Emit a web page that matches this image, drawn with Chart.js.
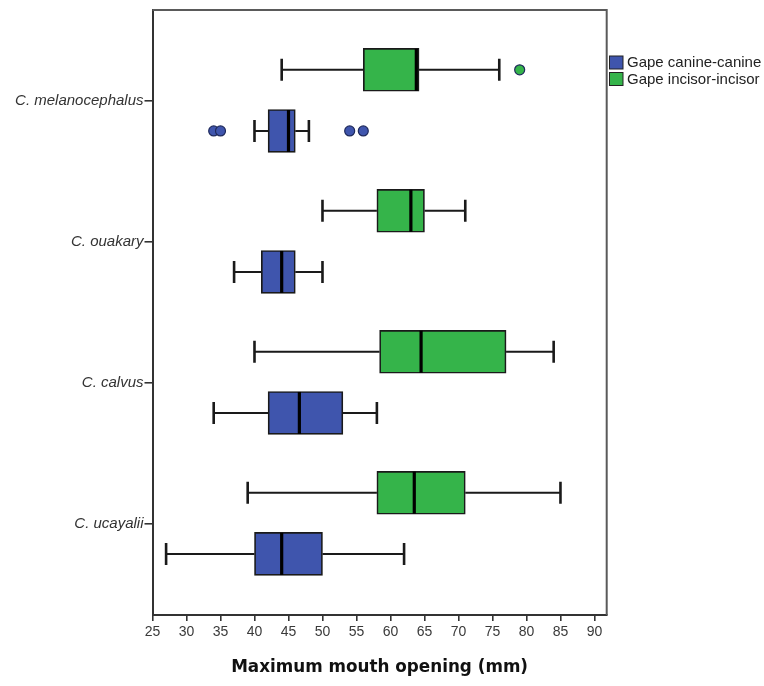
<!DOCTYPE html>
<html>
<head>
<meta charset="utf-8">
<script src="https://cdn.jsdelivr.net/npm/chart.js@4"></script>
<style>
  html, body { margin: 0; padding: 0; background: #ffffff; }
  canvas { display: block; }
</style>
</head>
<body>
<canvas id="chart" width="764" height="686"></canvas>
<script>
// Species (one row per category on the vertical axis)
const species = ['C. melanocephalus', 'C. ouakary', 'C. calvus', 'C. ucayalii'];
const seriesNames = ['Gape canine-canine', 'Gape incisor-incisor'];
const xTickValues = [25, 30, 35, 40, 45, 50, 55, 60, 65, 70, 75, 80, 85, 90];

// Gape canine-canine (mm): whisker low, Q1, median, Q3, whisker high, outliers
const canineMin    = [40, 37, 34, 27];
const canineQ1     = [42, 41, 42, 40];
const canineMedian = [45, 44, 46.6, 44];
const canineQ3     = [46, 46, 53, 50];
const canineMax    = [48, 50, 58, 62];
const canineOutliers = [[34, 35, 54, 56], [], [], []];

// Gape incisor-incisor (mm)
const incisorMin    = [44, 50, 40, 39];
const incisorQ1     = [56, 58, 58.4, 58];
const incisorMedian = [63.8, 63, 64.5, 63.5];
const incisorQ3     = [64.2, 65, 77, 71];
const incisorMax    = [76, 71, 84, 85];
const incisorOutliers = [[79], [], [], []];

const BLUE = '#3f55ad';
const GREEN = '#35b44a';
const EDGE = '#1a1a1a';
const ROW_SHIFT = 0.217;   // incisor box above the category, canine box below
const BOX_PX = 43;

const series = [
  { name: seriesNames[0], color: BLUE, shift: ROW_SHIFT,
    min: canineMin, q1: canineQ1, med: canineMedian, q3: canineQ3, max: canineMax, out: canineOutliers },
  { name: seriesNames[1], color: GREEN, shift: -ROW_SHIFT,
    min: incisorMin, q1: incisorQ1, med: incisorMedian, q3: incisorQ3, max: incisorMax, out: incisorOutliers }
];

const boxDatasets = series.map(s => ({
  type: 'bar',
  label: s.name,
  indexAxis: 'y',
  grouped: false,
  barThickness: BOX_PX,
  backgroundColor: s.color,
  borderColor: EDGE,
  borderWidth: 1.7,
  borderSkipped: false,
  data: species.map((_, i) => ({ x: [s.q1[i], s.q3[i]], y: i + s.shift }))
}));

const outlierDatasets = series.map(s => ({
  type: 'scatter',
  label: s.name + ' outliers',
  pointStyle: 'circle',
  pointRadius: 5,
  pointBackgroundColor: s.color,
  pointBorderColor: '#1f2a5c',
  pointBorderWidth: 1.2,
  data: s.out.flatMap((vals, i) => vals.map(v => ({ x: v, y: i + s.shift })))
}));

// Whiskers, caps and medians, drawn through the chart's scales
const boxplotParts = {
  id: 'boxplotParts',
  afterDatasetsDraw(chart) {
    const { ctx, scales: { x, y } } = chart;
    ctx.save();
    series.forEach(s => {
      species.forEach((_, i) => {
        const cy = y.getPixelForValue(i + s.shift);
        const xmin = x.getPixelForValue(s.min[i]);
        const xq1 = x.getPixelForValue(s.q1[i]);
        const xq3 = x.getPixelForValue(s.q3[i]);
        const xmax = x.getPixelForValue(s.max[i]);
        const xmed = x.getPixelForValue(s.med[i]);
        ctx.strokeStyle = EDGE;
        ctx.lineWidth = 2;
        ctx.beginPath();
        ctx.moveTo(xmin, cy); ctx.lineTo(xq1, cy);
        ctx.moveTo(xq3, cy); ctx.lineTo(xmax, cy);
        ctx.stroke();
        ctx.lineWidth = 2.6;
        const cap = 11;
        ctx.beginPath();
        ctx.moveTo(xmin, cy - cap); ctx.lineTo(xmin, cy + cap);
        ctx.moveTo(xmax, cy - cap); ctx.lineTo(xmax, cy + cap);
        ctx.stroke();
        ctx.lineWidth = 3.2;
        ctx.strokeStyle = '#000';
        ctx.beginPath();
        ctx.moveTo(xmed, cy - BOX_PX / 2 + 0.5); ctx.lineTo(xmed, cy + BOX_PX / 2 - 0.5);
        ctx.stroke();
      });
    });
    ctx.restore();
  }
};

// Frame on the top and right of the plot area, plus the legend on the right
const frameAndLegend = {
  id: 'frameAndLegend',
  beforeDraw(chart) {
    const { ctx, width, height } = chart;
    ctx.save();
    ctx.fillStyle = '#ffffff';
    ctx.fillRect(0, 0, width, height);
    ctx.restore();
  },
  afterDraw(chart) {
    const { ctx, chartArea: a } = chart;
    ctx.save();
    ctx.strokeStyle = '#5a5a5a';
    ctx.lineWidth = 2;
    ctx.beginPath();
    ctx.moveTo(a.left, a.top); ctx.lineTo(a.right, a.top); ctx.lineTo(a.right, a.bottom);
    ctx.stroke();

    ctx.font = '15px "Liberation Sans", Arial, sans-serif';
    ctx.textBaseline = 'middle';
    ctx.textAlign = 'left';
    series.forEach((s, k) => {
      const cy = 62.5 + k * 16.5;
      ctx.fillStyle = s.color;
      ctx.fillRect(609.5, cy - 6.5, 13.5, 13);
      ctx.strokeStyle = '#222';
      ctx.lineWidth = 1;
      ctx.strokeRect(609.5, cy - 6.5, 13.5, 13);
      ctx.fillStyle = '#222';
      ctx.fillText(s.name, 627, cy + 0.5);
    });
    ctx.restore();
  }
};

new Chart(document.getElementById('chart'), {
  type: 'bar',
  data: { datasets: [...boxDatasets, ...outlierDatasets] },
  options: {
    indexAxis: 'y',
    responsive: false,
    animation: false,
    events: [],
    layout: { padding: { left: 0, top: 9.5, right: 157.3, bottom: 0 } },
    plugins: { legend: { display: false }, tooltip: { enabled: false } },
    scales: {
      x: {
        type: 'linear',
        position: 'bottom',
        offset: false,
        min: 25,
        max: 91.8,
        afterBuildTicks: scale => { scale.ticks = xTickValues.map(v => ({ value: v })); },
        afterFit: scale => { scale.height = 71; },
        grid: { offset: false, drawOnChartArea: false, drawTicks: true, tickLength: 6, color: '#333', lineWidth: 1.6 },
        border: { display: true, color: '#333', width: 2 },
        ticks: {
          padding: 3,
          color: '#3a3a3a',
          font: { family: '"Liberation Sans", Arial, sans-serif', size: 14 },
          maxRotation: 0,
          autoSkip: false
        },
        title: {
          display: true,
          text: 'Maximum mouth opening (mm)',
          color: '#111',
          font: { family: '"DejaVu Sans", sans-serif', weight: 'bold', size: 16.8 },
          padding: { top: 0, bottom: 8 }
        }
      },
      y: {
        type: 'linear',
        position: 'left',
        offset: false,
        reverse: true,
        min: -0.641,
        max: 3.65,
        afterBuildTicks: scale => { scale.ticks = species.map((_, i) => ({ value: i })); },
        afterFit: scale => { scale.width = 152.5; },
        grid: { offset: false, drawOnChartArea: false, drawTicks: true, tickLength: 8, color: '#333', lineWidth: 1.6 },
        border: { display: true, color: '#333', width: 2 },
        ticks: {
          padding: 1,
          color: '#333',
          font: { family: '"Liberation Sans", Arial, sans-serif', size: 15, style: 'italic' },
          callback: value => species[value],
          autoSkip: false
        }
      }
    }
  },
  plugins: [boxplotParts, frameAndLegend]
});
</script>
</body>
</html>
